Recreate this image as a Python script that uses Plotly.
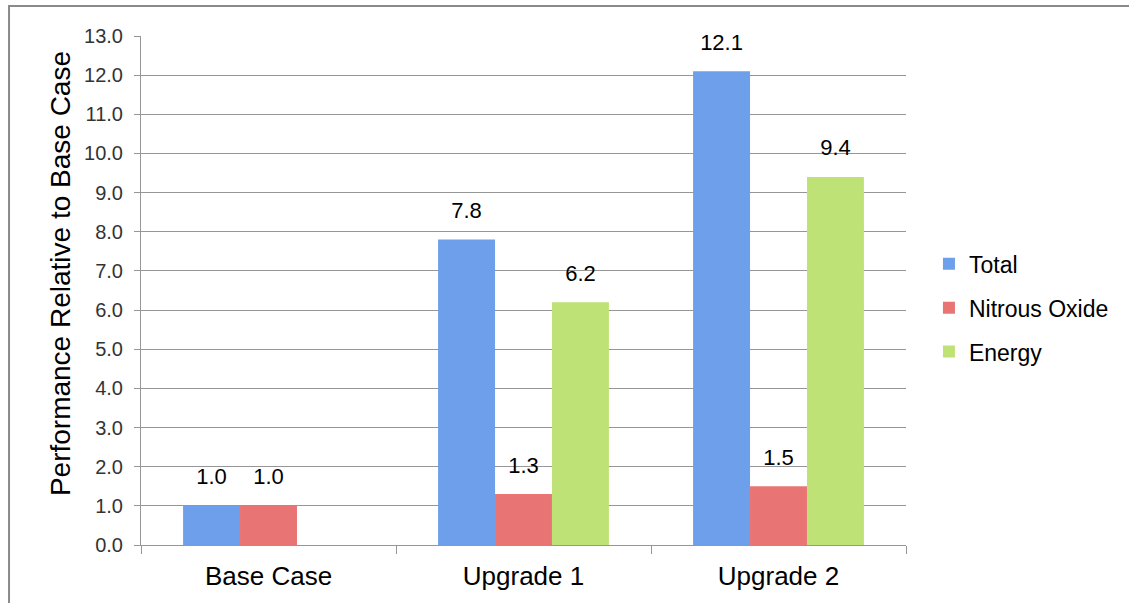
import plotly.graph_objects as go

categories = ["Base Case", "Upgrade 1", "Upgrade 2"]
total = [1.0, 7.8, 12.1]
nitrous_oxide = [1.0, 1.3, 1.5]
energy = [None, 6.2, 9.4]
series_names = ["Total", "Nitrous Oxide", "Energy"]
y_ticks = [0, 1, 2, 3, 4, 5, 6, 7, 8, 9, 10, 11, 12, 13]
y_title = "Performance Relative to Base Case"

colors = ["#6d9fea", "#e97474", "#bfe276"]
FONT = "Liberation Sans, Arial, sans-serif"
GRID = "#969696"

fig = go.Figure()
for name, vals, col in zip(series_names, [total, nitrous_oxide, energy], colors):
    fig.add_trace(go.Bar(
        x=categories, y=vals, name=name, marker=dict(color=col, line=dict(width=0)),
        offsetgroup=name, legendgroup=name,
    ))
for name, vals in zip(series_names, [total, nitrous_oxide, energy]):
    fig.add_trace(go.Scatter(
        x=categories, y=vals, mode="markers+text",
        text=["" if v is None else f"{v:.1f}" for v in vals],
        textposition="top center",
        textfont=dict(family=FONT, size=22, color="#000000"),
        marker=dict(size=24, opacity=0),
        offsetgroup=name, showlegend=False, hoverinfo="skip", cliponaxis=False,
    ))

fig.update_layout(
    width=1129, height=603,
    margin=dict(l=141, r=223, t=36, b=58),
    paper_bgcolor="white", plot_bgcolor="white",
    barmode="group", bargap=0.33, bargroupgap=0,
    scattermode="group", scattergap=0.33,
    font=dict(family=FONT, color="#000000"),
    showlegend=True,
    legend=dict(
        x=1.03, y=0.466, xanchor="left", yanchor="middle",
        font=dict(family=FONT, size=23, color="#000000"),
        tracegroupgap=11, bgcolor="rgba(0,0,0,0)",
    ),
    xaxis=dict(
        type="category", showgrid=False, showline=True, linecolor=GRID, linewidth=1,
        ticks="outside", tickson="boundaries", ticklen=8, tickcolor=GRID,
        tickfont=dict(family=FONT, size=26, color="#000000"),
        ticklabelstandoff=8,
        automargin=False, range=[-0.5, 2.5],
    ),
    yaxis=dict(
        range=[0, 13], tickvals=y_ticks, tickformat=".1f",
        showgrid=True, gridcolor=GRID, gridwidth=1,
        showline=True, linecolor=GRID, linewidth=1,
        ticks="outside", ticklen=6, tickcolor=GRID,
        tickfont=dict(family=FONT, size=20, color="#333333"),
        ticklabelstandoff=7,
        zeroline=False, automargin=False,
    ),
    annotations=[dict(
        text=y_title, xref="paper", yref="paper", x=-0.106, y=0.534,
        xanchor="center", yanchor="middle", textangle=-90, showarrow=False,
        font=dict(family=FONT, size=28, color="#000000"),
    )],
    shapes=[dict(type="rect", xref="paper", yref="paper",
                 x0=-0.1725, x1=1.30, y0=-0.128, y1=1.059,
                 line=dict(color="#8a8a8a", width=2), fillcolor="rgba(0,0,0,0)", layer="below")],
)

fig.write_html("out.html")
